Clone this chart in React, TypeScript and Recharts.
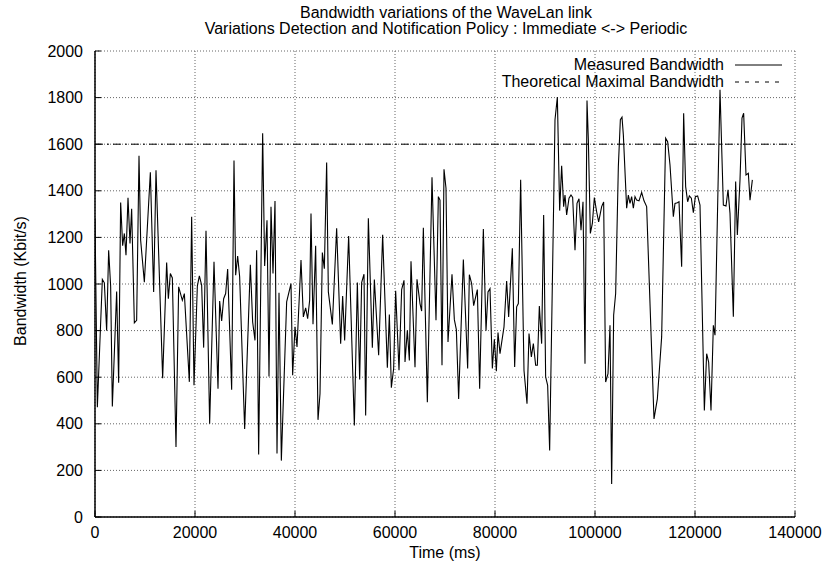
import React from 'react';
import { LineChart, Line, XAxis, YAxis, CartesianGrid, ReferenceLine } from 'recharts';

const times = [0,470,1470,1870,2330,2730,3130,3470,4330,4730,5130,5530,5870,6200,6600,7000,7330,7870,8330,8800,9130,9870,11070,11730,12200,13530,14330,14670,15070,15470,16200,16730,17470,17870,18870,19330,19800,20470,20870,21330,21730,22200,22930,23800,24600,24930,25330,25730,26130,26530,27330,27800,28130,28530,28930,29930,31070,31530,32000,32330,32730,33530,33930,34400,34800,35200,35600,36000,36400,36800,37270,38330,39200,39530,40000,40400,41200,41670,42130,42530,42930,43200,43600,44130,44600,45000,45470,45870,46330,46670,47470,48330,49130,49530,49930,50730,51870,52470,52930,53330,53800,54130,54670,55470,55870,56730,57530,58470,58870,59270,59730,60130,60800,61330,61800,62000,62470,62870,63200,64000,64400,65000,65330,65670,66470,67400,68200,68670,69000,69400,69800,70200,70600,71400,71870,72270,72730,73670,74530,74870,75330,75730,76470,76930,77670,78200,78600,79000,79470,79870,80270,80600,81000,81800,82330,82730,83470,83930,84330,84670,85130,85800,86400,86800,87270,87670,88130,88470,88870,89330,89730,90130,90530,90930,92000,92470,92930,93330,93730,94000,94330,94800,95200,95530,96000,96400,96800,97200,97600,98000,98400,98670,99070,99470,99870,100330,100730,101330,101730,102130,102600,103000,103330,103730,104130,104670,105070,105400,105670,106330,106670,107000,107330,107670,108000,108330,108800,109330,109800,110330,111800,112470,113330,114130,114530,115000,115670,116000,116470,116800,117330,117730,118130,118530,118870,119270,119670,120070,120530,121000,121870,122330,122730,123200,123670,124000,125000,125670,126200,126600,127000,127670,128130,128470,129000,129400,129730,130200,130670,131000,131470];

const bandwidth = [1282,471,1020,1005,800,1145,990,474,968,576,1350,1164,1217,1124,1370,1174,1323,833,844,1550,1188,1008,1480,966,1488,596,1092,937,1045,1026,300,988,930,959,580,1289,565,991,1035,995,727,1229,400,1095,550,927,841,937,959,1064,546,1530,1038,1120,1031,378,1083,837,758,1145,268,1647,1077,1274,603,1332,1045,1356,273,962,242,923,1002,608,816,730,1103,859,898,851,930,1303,827,1164,417,529,1135,1066,1521,966,826,1239,744,948,758,1206,393,1006,590,1006,1042,436,1282,727,1019,694,1211,641,869,555,637,971,630,976,1016,665,801,672,1098,643,1020,916,884,1241,493,1458,844,1375,1360,651,1492,1411,751,1042,847,804,507,1105,637,1040,1002,907,976,550,1236,799,966,980,637,763,626,792,701,816,1013,859,1153,644,902,916,1447,629,486,787,687,744,651,651,905,744,1296,601,565,285,1705,1802,1315,1507,1332,1382,1296,1368,1382,1372,1145,1346,1366,1231,1353,658,1788,1619,1217,1260,1371,1310,1267,1332,1352,579,615,823,142,866,959,1504,1705,1716,1640,1325,1382,1346,1375,1325,1375,1360,1357,1393,1357,1332,421,507,773,1626,1611,1511,1289,1346,1349,1353,1074,1733,1418,1353,1378,1368,1306,1375,1378,1339,457,701,665,457,823,780,1834,1339,1335,1404,1303,859,1440,1210,1447,1712,1733,1468,1475,1360,1447];

const theoreticalMax = 1600;
const xTicks = [0, 20000, 40000, 60000, 80000, 100000, 120000, 140000];
const yTicks = [0, 200, 400, 600, 800, 1000, 1200, 1400, 1600, 1800, 2000];

const titleLines = ['Bandwidth variations of the WaveLan link', 'Variations Detection and Notification Policy : Immediate <-> Periodic'];
const seriesNames = ['Measured Bandwidth', 'Theoretical Maximal Bandwidth'];

const data = times.map((t, i) => ({ t, v: bandwidth[i] }));

const FONT = '"Liberation Sans", Arial, Helvetica, sans-serif';
const W = 829;
const H = 569;

export default function App() {
  const tickStyle = { fontSize: 16, fill: '#000', fontFamily: FONT };
  return (
    <div style={{ position: 'absolute', left: 0, top: 0, width: W, height: H, background: '#fff' }}>
      <LineChart width={W} height={H} data={data} margin={{ top: 51, right: 34, left: 35, bottom: 22 }}>
        <CartesianGrid stroke="#666" strokeDasharray="1 2" xAxisId="b" yAxisId="l" />
        <XAxis xAxisId="b" dataKey="t" type="number" domain={[0, 140000]} ticks={xTicks} interval={0}
          height={30} tickSize={-6} tickMargin={16} tick={tickStyle}
          axisLine={{ stroke: '#000', strokeWidth: 1.5 }} tickLine={{ stroke: '#000' }} allowDataOverflow />
        <XAxis xAxisId="t" orientation="top" dataKey="t" type="number" domain={[0, 140000]} ticks={xTicks} interval={0}
          height={0} tickSize={-6} tick={false}
          axisLine={{ stroke: '#000', strokeWidth: 1.5 }} tickLine={{ stroke: '#000' }} allowDataOverflow />
        <YAxis yAxisId="l" type="number" domain={[0, 2000]} ticks={yTicks} interval={0}
          width={60} tickSize={-6} tickMargin={18} tick={tickStyle}
          axisLine={{ stroke: '#000', strokeWidth: 1.5 }} tickLine={{ stroke: '#000' }} allowDataOverflow />
        <YAxis yAxisId="r" orientation="right" type="number" domain={[0, 2000]} ticks={yTicks} interval={0}
          width={0} tickSize={-6} tick={false}
          axisLine={{ stroke: '#000', strokeWidth: 1.5 }} tickLine={{ stroke: '#000' }} allowDataOverflow />
        <ReferenceLine xAxisId="b" yAxisId="l" y={theoreticalMax} stroke="#000" strokeWidth={1} strokeDasharray="8 4 2 4" />
        <Line xAxisId="b" yAxisId="l" type="linear" dataKey="v" stroke="#000" strokeWidth={1.1} dot={false} isAnimationActive={false} />
      </LineChart>
      <svg width={W} height={H} style={{ position: 'absolute', left: 0, top: 0, pointerEvents: 'none' }} fontFamily={FONT} fontSize={16}>
        <text x={446} y={18} textAnchor="middle">{titleLines[0]}</text>
        <text x={446} y={34} textAnchor="middle">{titleLines[1]}</text>
        <text x={724} y={70} textAnchor="end">{seriesNames[0]}</text>
        <line x1={735} x2={782} y1={65} y2={65} stroke="#000" strokeWidth={1} />
        <text x={724} y={87} textAnchor="end">{seriesNames[1]}</text>
        <line x1={735} x2={782} y1={82} y2={82} stroke="#000" strokeWidth={1} strokeDasharray="4 6" />
        <text x={445} y={558} textAnchor="middle">Time (ms)</text>
        <text x={26} y={281} textAnchor="middle" transform="rotate(-90 26 281)">Bandwidth (Kbit/s)</text>
      </svg>
    </div>
  );
}
